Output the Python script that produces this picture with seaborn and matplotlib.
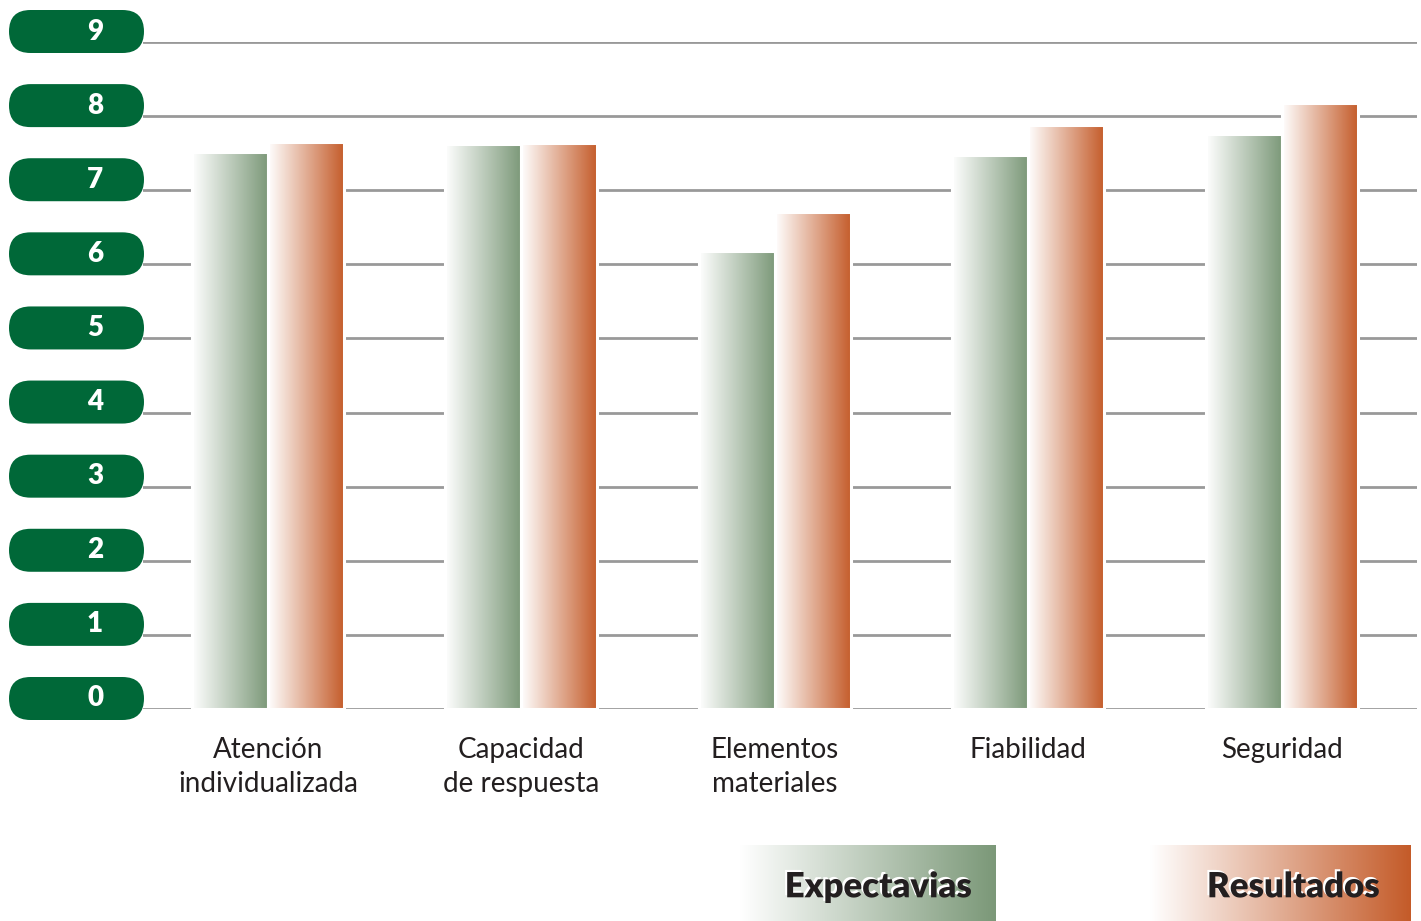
import numpy as np
import pandas as pd
import seaborn as sns
import matplotlib.pyplot as plt
from matplotlib.colors import LinearSegmentedColormap
from matplotlib.patches import FancyBboxPatch
from matplotlib.transforms import IdentityTransform
import matplotlib.patheffects as pe

# datos
categorias = ["Atención\nindividualizada", "Capacidad\nde respuesta",
              "Elementos\nmateriales", "Fiabilidad", "Seguridad"]
series = ["Expectavias", "Resultados"]
expectativas = [7.51, 7.63, 6.18, 7.47, 7.76]
resultados = [7.65, 7.64, 6.70, 7.88, 8.18]
yticks = list(range(10))

verde = "#7b9878"
naranja = "#c45b29"
pill = "#006838"
texto = "#231f20"

df = pd.DataFrame({
    "categoria": categorias * 2,
    "serie": [series[0]] * len(categorias) + [series[1]] * len(categorias),
    "valor": expectativas + resultados,
})

sns.set_theme(style="white")
plt.rcParams["font.family"] = ["Lato", "DejaVu Sans"]

W, H = 1421, 921
fig = plt.figure(figsize=(W / 100, H / 100), dpi=100)
ax = fig.add_axes([143 / W, (H - 709) / H, (1417 - 143) / W, (709 - 42) / H])

sns.barplot(data=df, x="categoria", y="valor", hue="serie",
            palette=[verde, naranja], width=0.6, saturation=1,
            legend=False, ax=ax)

cmaps = [LinearSegmentedColormap.from_list("g", ["#ffffff", verde]),
         LinearSegmentedColormap.from_list("o", ["#ffffff", naranja])]
grad = np.linspace(0, 1, 256).reshape(1, -1)

# relleno degradado para cada barra
for cont, cm in zip(ax.containers, cmaps):
    for bar in cont:
        x, y = bar.get_x(), bar.get_y()
        w, h = bar.get_width(), bar.get_height()
        ax.imshow(grad, cmap=cm, aspect="auto", extent=[x, x + w, y, y + h],
                  zorder=2, interpolation="bicubic")
        bar.set_facecolor("none")
        bar.set_edgecolor("white")
        bar.set_linewidth(2.2)
        bar.set_zorder(3)

ax.set_xlim(-0.493, 4.533)
ax.set_ylim(0, 9)
ax.set_yticks(yticks)
ax.set_yticklabels([])
ax.yaxis.grid(True, color="#999999", linewidth=2.0)
ax.set_axisbelow(True)
for s in ax.spines.values():
    s.set_visible(False)
ax.tick_params(length=0)
ax.tick_params(axis="x", pad=20)
ax.set_xlabel("")
ax.set_ylabel("")
for lab in ax.get_xticklabels():
    lab.set_fontsize(20)
    lab.set_color(texto)
    lab.set_fontweight("normal")
    lab.set_linespacing(1.4)

# etiquetas del eje y en pastillas verdes
for v in yticks:
    yd = ax.transData.transform((0, v))[1]
    yc = yd + 10.5
    p = FancyBboxPatch((9, yc - 21.5), 135, 43,
                       boxstyle="round,pad=0,rounding_size=21.5",
                       transform=IdentityTransform(), facecolor=pill,
                       edgecolor="none")
    fig.add_artist(p)
    fig.text(95 / W, yc / H, str(v), ha="center", va="center",
             color="white", fontsize=20, fontweight="heavy")

# leyenda con cajas degradadas
leg = [(740, 996, 24, series[0], cmaps[0]), (1150, 1411, 31, series[1], cmaps[1])]
for x0, x1, marg, nombre, cm in leg:
    lax = fig.add_axes([x0 / W, 0, (x1 - x0) / W, 76 / H])
    lax.imshow(grad, cmap=cm, aspect="auto", extent=[0, 1, 0, 1],
               interpolation="bicubic")
    lax.set_xlim(0, 1)
    lax.set_ylim(0, 1)
    lax.axis("off")
    lax.text(1 - marg / (x1 - x0), 0.45, nombre, ha="right", va="center",
             color=texto, fontsize=25, fontweight="heavy",
             path_effects=[pe.withSimplePatchShadow(offset=(-1.5, 1.5),
                                                    shadow_rgbFace="white",
                                                    alpha=1)])

fig.savefig("out.png", dpi=100)
